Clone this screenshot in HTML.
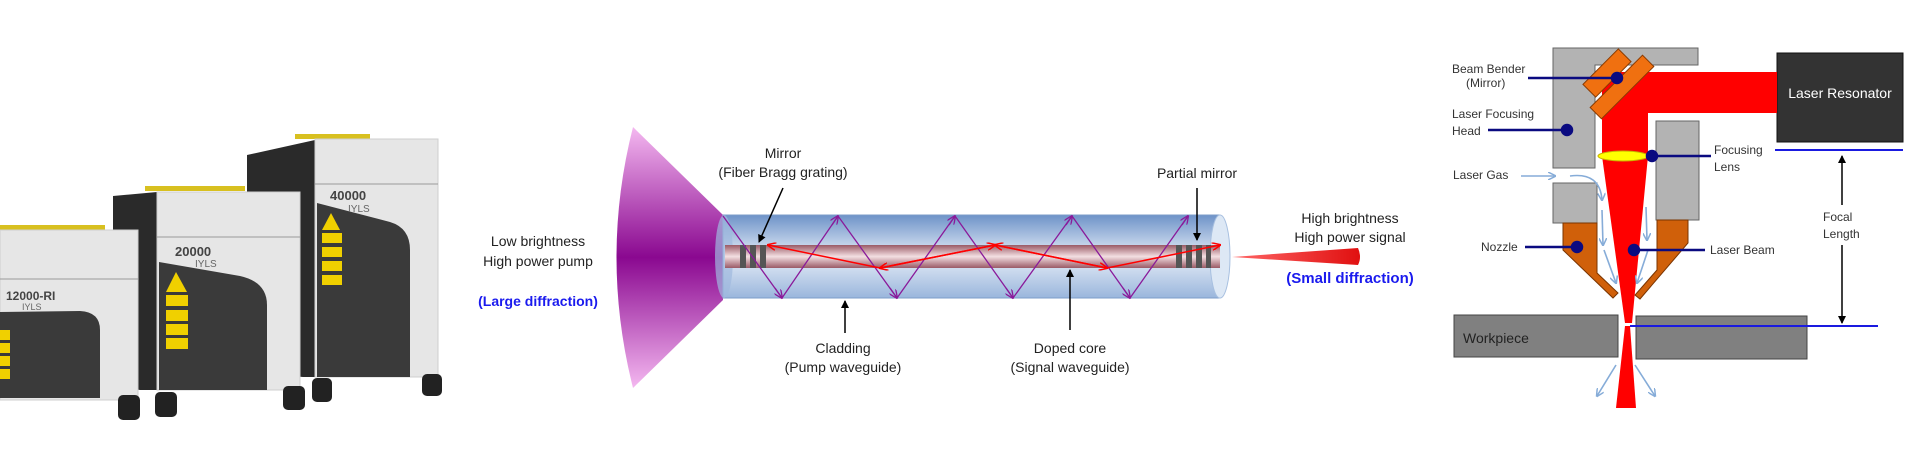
<!DOCTYPE html>
<html><head><meta charset="utf-8"><style>
html,body{margin:0;padding:0;background:#fff;}
svg{display:block;}
text{font-family:"Liberation Sans","DejaVu Sans",sans-serif;}
</style></head><body>
<svg width="1920" height="469" viewBox="0 0 1920 469" xmlns="http://www.w3.org/2000/svg">
<defs>
<linearGradient id="pump" x1="0" y1="0" x2="0" y2="1">
<stop offset="0" stop-color="#f4b8f0"/><stop offset="0.5" stop-color="#8a0890"/><stop offset="1" stop-color="#f4b8f0"/></linearGradient>
<linearGradient id="tube" x1="0" y1="0" x2="0" y2="1">
<stop offset="0" stop-color="#6e93c8"/><stop offset="0.5" stop-color="#e4ecf7"/><stop offset="1" stop-color="#9ab6dc"/></linearGradient>
<linearGradient id="core" x1="0" y1="0" x2="0" y2="1">
<stop offset="0" stop-color="#9a5a66"/><stop offset="0.5" stop-color="#f3dfe2"/><stop offset="1" stop-color="#9a5a66"/></linearGradient>
<linearGradient id="beam" x1="0" y1="0" x2="1" y2="0">
<stop offset="0" stop-color="#ff6666"/><stop offset="1" stop-color="#e01010"/></linearGradient>
<marker id="ah" markerWidth="8" markerHeight="8" refX="7" refY="4" orient="auto" markerUnits="userSpaceOnUse"><path d="M0,0 L8,4 L0,8 z" fill="#000"/></marker>
<marker id="ar" markerWidth="9" markerHeight="8" refX="8" refY="4" orient="auto" markerUnits="userSpaceOnUse"><path d="M0,0 L9,4 L0,8" fill="none" stroke="#f00" stroke-width="1.5"/></marker>
<marker id="ap" markerWidth="9" markerHeight="8" refX="8" refY="4" orient="auto" markerUnits="userSpaceOnUse"><path d="M0,0 L9,4 L0,8" fill="none" stroke="#8a1a9a" stroke-width="1.3"/></marker>
<marker id="ab" markerWidth="8" markerHeight="8" refX="7" refY="4" orient="auto" markerUnits="userSpaceOnUse"><path d="M0,0 L8,4 L0,8" fill="none" stroke="#86acd8" stroke-width="1.5"/></marker>
</defs>

<!-- LEFT: laser units -->
<g>
<!-- unit 3 -->
<rect x="295" y="134" width="75" height="5" fill="#d8c020"/>
<polygon points="247,155 315,140 315,377 303,377 247,372" fill="#2a2a2a"/>
<rect x="315" y="139" width="123" height="238" fill="#e6e6e6" stroke="#cfcfcf"/>
<line x1="315" y1="184" x2="438" y2="184" stroke="#999"/>
<path d="M317,203 L390,222 Q410,228 410,250 L410,377 L317,377 Z" fill="#3a3a3a"/>
<text x="330" y="200" font-size="13" font-weight="bold" fill="#444">40000</text>
<text x="348" y="212" font-size="10" fill="#666">IYLS</text>
<polygon points="331,213 322,230 340,230" fill="#f0d000"/>
<rect x="322" y="233" width="20" height="10" fill="#f0d000"/><rect x="322" y="247" width="20" height="10" fill="#f0d000"/><rect x="322" y="261" width="20" height="10" fill="#f0d000"/><rect x="322" y="275" width="20" height="10" fill="#f0d000"/>
<rect x="312" y="378" width="20" height="24" rx="5" fill="#222"/><rect x="422" y="374" width="20" height="22" rx="5" fill="#222"/>
<!-- unit 2 -->
<rect x="145" y="186" width="100" height="5" fill="#d8c020"/>
<polygon points="113,196 157,192 157,390 140,390 113,385" fill="#2a2a2a"/>
<rect x="157" y="192" width="143" height="198" fill="#e6e6e6" stroke="#cfcfcf"/>
<line x1="157" y1="237" x2="300" y2="237" stroke="#999"/>
<path d="M159,262 L240,276 Q267,282 267,305 L267,390 L159,390 Z" fill="#3a3a3a"/>
<text x="175" y="256" font-size="13" font-weight="bold" fill="#444">20000</text>
<text x="195" y="267" font-size="10" fill="#666">IYLS</text>
<polygon points="176,272 166,292 187,292" fill="#f0d000"/>
<rect x="166" y="295" width="22" height="11" fill="#f0d000"/><rect x="166" y="310" width="22" height="11" fill="#f0d000"/><rect x="166" y="324" width="22" height="11" fill="#f0d000"/><rect x="166" y="338" width="22" height="11" fill="#f0d000"/>
<rect x="155" y="392" width="22" height="25" rx="5" fill="#222"/><rect x="283" y="386" width="22" height="24" rx="5" fill="#222"/>
<!-- unit 1 -->
<rect x="0" y="225" width="105" height="5" fill="#d8c020"/>
<rect x="0" y="230" width="138" height="170" fill="#e6e6e6" stroke="#cfcfcf"/>
<line x1="0" y1="279" x2="138" y2="279" stroke="#999"/>
<path d="M0,312 L80,311 Q100,312 100,330 L100,398 L0,398 Z" fill="#3a3a3a"/>
<text x="6" y="300" font-size="12" font-weight="bold" fill="#444">12000-RI</text>
<text x="22" y="310" font-size="9" fill="#666">IYLS</text>
<rect x="0" y="330" width="10" height="10" fill="#f0d000"/><rect x="0" y="343" width="10" height="10" fill="#f0d000"/><rect x="0" y="356" width="10" height="10" fill="#f0d000"/><rect x="0" y="369" width="10" height="10" fill="#f0d000"/>
<rect x="118" y="395" width="22" height="25" rx="5" fill="#222"/>
</g>

<!-- MIDDLE: fiber laser -->
<g>
<path d="M633,127 Q600,257 633,388 L723,300 L723,215 Z" fill="url(#pump)"/>
<rect x="723" y="215" width="497" height="83" fill="url(#tube)" stroke="#7d9cc9" stroke-width="1"/>
<ellipse cx="1220" cy="256.5" rx="10" ry="41.5" fill="#dde8f5" stroke="#a8c0e0"/>
<ellipse cx="724" cy="256.5" rx="9" ry="41.5" fill="#9fb9de" opacity="0.7"/>
<rect x="725" y="245" width="495" height="23" fill="url(#core)"/>
<g fill="#555"><rect x="740" y="245" width="6" height="23"/><rect x="750" y="245" width="6" height="23"/><rect x="760" y="245" width="6" height="23"/>
<rect x="1176" y="245" width="6" height="23"/><rect x="1186" y="245" width="6" height="23"/><rect x="1196" y="245" width="6" height="23"/><rect x="1206" y="245" width="5" height="23"/></g>
<polyline points="723,216 782,298 838,216 897,298 955,216 1013,298 1072,216 1130,298 1188,216" fill="none" stroke="#8a1a9a" stroke-width="1.3"/>
<g stroke="#8a1a9a" stroke-width="1.3" fill="none">
<line x1="775" y1="288" x2="782" y2="298" marker-end="url(#ap)"/><line x1="832" y1="225" x2="838" y2="216" marker-end="url(#ap)"/><line x1="890" y1="288" x2="897" y2="298" marker-end="url(#ap)"/><line x1="949" y1="225" x2="955" y2="216" marker-end="url(#ap)"/><line x1="1006" y1="288" x2="1013" y2="298" marker-end="url(#ap)"/><line x1="1066" y1="225" x2="1072" y2="216" marker-end="url(#ap)"/><line x1="1123" y1="288" x2="1130" y2="298" marker-end="url(#ap)"/><line x1="1182" y1="225" x2="1188" y2="216" marker-end="url(#ap)"/>
</g>
<g stroke="#f00" stroke-width="1.5" fill="none">
<line x1="880" y1="268" x2="768" y2="245" marker-end="url(#ar)"/>
<line x1="995" y1="245" x2="880" y2="268" marker-end="url(#ar)"/>
<line x1="880" y1="268" x2="995" y2="245" marker-end="url(#ar)"/>
<line x1="1107" y1="268" x2="995" y2="245" marker-end="url(#ar)"/>
<line x1="995" y1="245" x2="1107" y2="268" marker-end="url(#ar)"/>
<line x1="1107" y1="268" x2="1220" y2="245" marker-end="url(#ar)"/>
</g>
<path d="M1232,257 L1358,248 Q1362,257 1358,265 Z" fill="url(#beam)"/>
<g font-size="14" fill="#222" text-anchor="middle">
<text x="538" y="246">Low brightness</text><text x="538" y="266">High power pump</text>
<text x="783" y="158">Mirror</text><text x="783" y="177">(Fiber Bragg grating)</text>
<text x="843" y="353">Cladding</text><text x="843" y="372">(Pump waveguide)</text>
<text x="1070" y="353">Doped core</text><text x="1070" y="372">(Signal waveguide)</text>
<text x="1197" y="178">Partial mirror</text>
<text x="1350" y="223">High brightness</text><text x="1350" y="242">High power signal</text>
</g>
<text x="538" y="306" font-size="14" font-weight="bold" fill="#1a1aee" text-anchor="middle">(Large diffraction)</text>
<text x="1350" y="283" font-size="15" font-weight="bold" fill="#1a1aee" text-anchor="middle">(Small diffraction)</text>
<g stroke="#000" stroke-width="1.5">
<line x1="783" y1="188" x2="759" y2="242" marker-end="url(#ah)"/>
<line x1="845" y1="333" x2="845" y2="301" marker-end="url(#ah)"/>
<line x1="1070" y1="330" x2="1070" y2="270" marker-end="url(#ah)"/>
<line x1="1197" y1="188" x2="1197" y2="240" marker-end="url(#ah)"/>
</g>
</g>

<!-- RIGHT: laser cutting head -->
<g>
<polygon points="1553,48 1698,48 1698,65 1595,65 1595,168 1553,168" fill="#b3b3b3" stroke="#666" stroke-width="1"/>
<rect x="1777" y="53" width="126" height="89" fill="#333" stroke="#111"/>
<text x="1840" y="98" font-size="14" fill="#fff" text-anchor="middle">Laser Resonator</text>
<rect x="1647" y="72" width="130" height="41" fill="#f00"/>
<polygon points="1602,72 1648,72 1648,156 1632,323 1625,323 1602,156" fill="#f00"/>
<polygon points="1625,326 1630,326 1636,408 1616,408" fill="#f00"/>
<g transform="translate(1607,73) rotate(-45)"><rect x="-25" y="-9" width="50" height="18" fill="#f07010" stroke="#8a3a00"/></g>
<g transform="translate(1622,87) rotate(-45)"><rect x="-37" y="-8" width="74" height="16" fill="#f07010" stroke="#8a3a00"/></g>
<rect x="1656" y="121" width="43" height="99" fill="#b3b3b3" stroke="#666"/>
<rect x="1553" y="183" width="44" height="40" fill="#b3b3b3" stroke="#666"/>
<polygon points="1563,223 1597,223 1597,273 1618,293 1613,298 1563,250" fill="#d0600a" stroke="#7a3400"/>
<polygon points="1657,220 1688,220 1688,243 1640,299 1635,295 1657,270" fill="#d0600a" stroke="#7a3400"/>
<ellipse cx="1623" cy="156" rx="25" ry="5" fill="#ffff00" stroke="#c8b000"/>
<rect x="1454" y="315" width="164" height="42" fill="#808080" stroke="#444"/>
<rect x="1636" y="316" width="171" height="43" fill="#808080" stroke="#444"/>
<text x="1463" y="343" font-size="14" fill="#222">Workpiece</text>
<g stroke="#86acd8" stroke-width="1.6" fill="none">
<line x1="1521" y1="176" x2="1555" y2="176" marker-end="url(#ab)"/>
<path d="M1570,176 Q1600,172 1602,200" marker-end="url(#ab)"/>
<line x1="1602" y1="210" x2="1603" y2="245" marker-end="url(#ab)"/>
<line x1="1604" y1="250" x2="1616" y2="283" marker-end="url(#ab)"/>
<line x1="1646" y1="207" x2="1647" y2="240" marker-end="url(#ab)"/>
<line x1="1648" y1="250" x2="1637" y2="283" marker-end="url(#ab)"/>
<line x1="1616" y1="365" x2="1597" y2="396" marker-end="url(#ab)"/>
<line x1="1635" y1="365" x2="1655" y2="396" marker-end="url(#ab)"/>
</g>
<g stroke="#0a0a80" stroke-width="2.5" fill="#0a0a80">
<line x1="1528" y1="78" x2="1617" y2="78"/><circle cx="1617" cy="78" r="5"/>
<line x1="1488" y1="130" x2="1567" y2="130"/><circle cx="1567" cy="130" r="5"/>
<line x1="1652" y1="156" x2="1711" y2="156"/><circle cx="1652" cy="156" r="5"/>
<line x1="1525" y1="247" x2="1577" y2="247"/><circle cx="1577" cy="247" r="5"/>
<line x1="1634" y1="250" x2="1705" y2="250"/><circle cx="1634" cy="250" r="5"/>
</g>
<line x1="1775" y1="150" x2="1903" y2="150" stroke="#1a1ae0" stroke-width="2"/>
<line x1="1630" y1="326" x2="1878" y2="326" stroke="#1a1ae0" stroke-width="2"/>
<g stroke="#000" stroke-width="1.5">
<line x1="1842" y1="205" x2="1842" y2="156" marker-end="url(#ah)"/>
<line x1="1842" y1="245" x2="1842" y2="323" marker-end="url(#ah)"/>
</g>
<g font-size="12" fill="#333">
<text x="1452" y="73">Beam Bender</text><text x="1466" y="87">(Mirror)</text>
<text x="1452" y="118">Laser Focusing</text><text x="1452" y="135">Head</text>
<text x="1453" y="179">Laser Gas</text>
<text x="1481" y="251">Nozzle</text>
<text x="1714" y="154">Focusing</text><text x="1714" y="171">Lens</text>
<text x="1710" y="254">Laser Beam</text>
<text x="1823" y="221">Focal</text><text x="1823" y="238">Length</text>
</g>
</g>
</svg>
</body></html>
